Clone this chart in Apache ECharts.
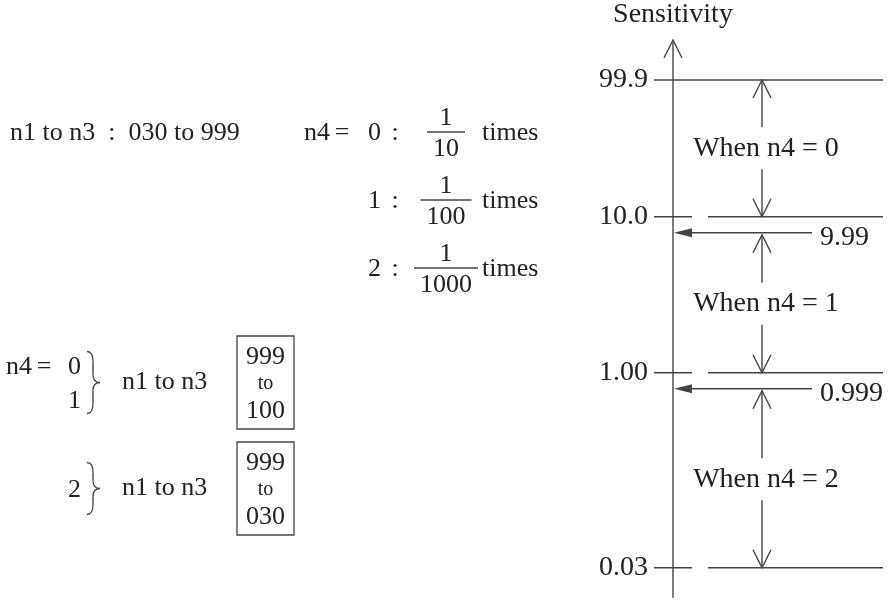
<!DOCTYPE html>
<html>
<head>
<meta charset="utf-8">
<script src="https://cdn.jsdelivr.net/npm/echarts@6/dist/echarts.min.js"></script>
<style>
  html, body { margin: 0; padding: 0; background: #fff; }
  #main { width: 893px; height: 601px; }
</style>
</head>
<body>
<div id="main"></div>
<script>
// sensitivity levels on the right-hand scale, top to bottom
const levels = [99.9, 10.0, 1.00, 0.03]
const levelLabels = ['99.9', '10.0', '1.00', '0.03']
// one band per n4 setting, band i runs from levels[i] down to levels[i + 1]
const n4Values = [0, 1, 2]
const bandMaxValues = [99.9, 9.99, 0.999]
const bandMaxLabels = ['99.9', '9.99', '0.999']
// notes on the left
const settingRange = ['030', '999']
const divisors = ['10', '100', '1000']
const rangeN4 = [[0, 1], [2]]
const rangeHigh = ['999', '999']
const rangeLow = ['100', '030']

const INK = '#222'
const LINE = '#444'
const FONT = "'Liberation Serif', 'Times New Roman', serif"

function txt(text, x, y, size, align) {
  return {
    type: 'text', x: x, y: y, silent: true,
    style: { text: text, fill: INK, fontSize: size, fontFamily: FONT, align: align || 'left', verticalAlign: 'middle' }
  }
}
function seg(x1, y1, x2, y2) {
  return { type: 'line', silent: true, shape: { x1, y1, x2, y2 }, style: { stroke: LINE, lineWidth: 1.4 } }
}
function curve(x1, y1, cpx1, cpy1, x2, y2) {
  return {
    type: 'bezierCurve', silent: true,
    shape: { x1, y1, cpx1, cpy1, x2, y2 },
    style: { stroke: LINE, fill: null, lineWidth: 1.3 }
  }
}
// open V head, dir -1 points up, +1 points down
function openHead(x, y, dir) {
  return {
    type: 'polyline', silent: true,
    shape: { points: [[x - 9, y - dir * 18], [x, y], [x + 9, y - dir * 18]] },
    style: { stroke: LINE, fill: null, lineWidth: 1.4 }
  }
}
// right curly brace made of curves
function brace(x0, y1, y2) {
  const m = (y1 + y2) / 2, xm = x0 + 6, xt = x0 + 13
  return [
    curve(x0, y1, xm, y1, xm, y1 + 10),
    seg(xm, y1 + 10, xm, m - 8),
    curve(xm, m - 8, xm, m, xt, m),
    curve(xt, m, xm, m, xm, m + 8),
    seg(xm, m + 8, xm, y2 - 10),
    curve(xm, y2 - 10, xm, y2, x0, y2)
  ]
}
// "n4 =" with a slightly tight equals sign
function n4Eq(xEnd, y) {
  return [txt('n4', xEnd - 18, y, 26, 'right'), txt('=', xEnd - 6, y, 26, 'center')]
}

function renderBand(params, api) {
  const i = api.value(2)
  const cs = params.coordSys
  const ax = cs.x, right = cs.x + cs.width
  const yTop = api.coord([0, levels[i]])[1]
  const yBot = api.coord([0, levels[i + 1]])[1]
  const kids = []
  const last = i === n4Values.length - 1

  // main vertical axis
  kids.push(seg(ax, i === 0 ? yTop - 40 : yTop, ax, last ? yBot + 30 : yBot))
  if (i === 0) {
    kids.push(openHead(ax, yTop - 40, -1))
    kids.push(txt('Sensitivity', ax, yTop - 65, 28, 'center'))
    kids.push(seg(ax - 19, yTop, right, yTop))
    kids.push(txt(levelLabels[0], ax - 25, yTop, 28, 'right'))
  }
  // lower level line, broken after the tick
  kids.push(seg(ax - 19, yBot, ax + 19, yBot))
  kids.push(seg(ax + 35, yBot, right, yBot))
  kids.push(txt(levelLabels[i + 1], ax - 25, yBot, 28, 'right'))

  // top value of the band, pointing back to the axis
  let yT = yTop
  if (i > 0) {
    const ya = yTop + 16
    kids.push(seg(ax + 139, ya, ax + 16, ya))
    kids.push({
      type: 'polygon', silent: true,
      shape: { points: [[ax + 1, ya], [ax + 19, ya - 4.5], [ax + 19, ya + 4.5]] },
      style: { fill: LINE }
    })
    kids.push(txt(bandMaxLabels[i], ax + 147, ya + 5, 28, 'left'))
    yT = ya + 2
  }

  // span arrows with the label between them
  const vx = ax + 89
  const mid = (yT + yBot) / 2
  kids.push(seg(vx, mid - 21, vx, yT))
  kids.push(openHead(vx, yT, -1))
  kids.push(seg(vx, mid + 21, vx, yBot))
  kids.push(openHead(vx, yBot, 1))
  kids.push(txt('When n4 = ' + n4Values[i], vx + 4, mid, 28, 'center'))

  return { type: 'group', children: kids }
}

// left-hand notes
const notes = []
notes.push(txt(`n1 to n3\u2002:\u2002${settingRange[0]} to ${settingRange[1]}`, 10, 133, 26))
n4Values.forEach((k, r) => {
  const y = 132 + r * 68
  if (r === 0) n4Eq(348, y + 1).forEach(el => notes.push(el))
  notes.push(txt(String(k), 368, y + 1, 26))
  notes.push(txt(':', 395, y + 1, 26, 'center'))
  const w = divisors[r].length * 13 + 12
  notes.push(seg(446 - w / 2, y, 446 + w / 2, y))
  notes.push(txt('1', 446, y - 14, 26, 'center'))
  notes.push(txt(divisors[r], 446, y + 17, 26, 'center'))
  notes.push(txt('times', 482, y + 1, 26))
})
rangeN4.forEach((group, j) => {
  const top = 336 + j * 106
  const c = top + 46.5
  notes.push({
    type: 'rect', silent: true,
    shape: { x: 237, y: top, width: 57, height: 93 },
    style: { stroke: LINE, fill: null, lineWidth: 1.3 }
  })
  notes.push(txt(rangeHigh[j], 265.5, top + 21, 26, 'center'))
  notes.push(txt('to', 265.5, top + 48, 20, 'center'))
  notes.push(txt(rangeLow[j], 265.5, top + 75, 26, 'center'))
  notes.push(txt('n1 to n3', 122, c, 26))
  const half = group.length > 1 ? 31 : 26
  brace(87, c - half, c + half).forEach(el => notes.push(el))
  group.forEach((k, idx) => {
    const y = c + (idx - (group.length - 1) / 2) * 34 + 2
    notes.push(txt(String(k), 68, y, 26))
  })
  if (j === 0) n4Eq(50, c - 15).forEach(el => notes.push(el))
})

const chart = echarts.init(document.getElementById('main'))

const bandTops = [80, 216.7, 372.7]
const bandHeights = [136.7, 156, 195]

const option = {
  animation: false,
  backgroundColor: '#fff',
  grid: n4Values.map((k, i) => ({ left: 673, width: 210, top: bandTops[i], height: bandHeights[i] })),
  xAxis: n4Values.map((k, i) => ({ type: 'value', gridIndex: i, min: 0, max: 1, show: false })),
  yAxis: n4Values.map((k, i) => ({
    type: 'log', gridIndex: i, min: levels[i + 1], max: levels[i], show: false
  })),
  series: n4Values.map((k, i) => ({
    type: 'custom',
    xAxisIndex: i,
    yAxisIndex: i,
    clip: false,
    renderItem: renderBand,
    data: [[0.5, bandMaxValues[i], i]]
  })),
  graphic: notes
}

chart.setOption(option)
</script>
</body>
</html>
